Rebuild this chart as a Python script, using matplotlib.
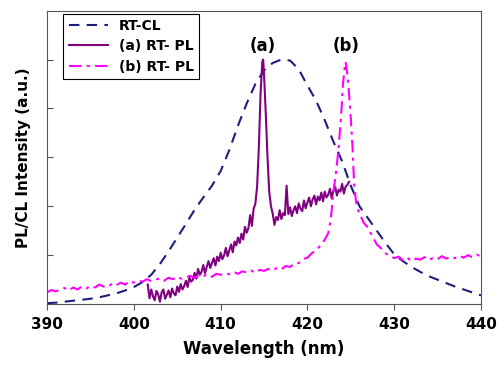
import numpy as np
import matplotlib
matplotlib.use('Agg')
import matplotlib.pyplot as plt

# RT-CL spectrum, 1 nm steps from 390 to 440 nm
cl_wl = np.linspace(390, 440, 51)
cl_int = [0.02, 0.03, 0.05, 0.07, 0.09, 0.11, 0.14, 0.18, 0.22, 0.28,
          0.35, 0.45, 0.60, 0.82, 1.08, 1.36, 1.64, 1.93, 2.18, 2.42,
          2.72, 3.15, 3.65, 4.10, 4.50, 4.78, 4.93, 5.00, 4.98, 4.80,
          4.47, 4.16, 3.76, 3.32, 2.92, 2.42, 2.00, 1.75, 1.50, 1.25,
          1.02, 0.88, 0.76, 0.66, 0.57, 0.50, 0.43, 0.36, 0.30, 0.24,
          0.18]

# (a) RT-PL
pla_wl = np.concatenate([
    np.linspace(401.6, 413.8, 62),
    [414.0, 414.2, 414.4, 414.6, 414.8, 414.9, 415.0, 415.2, 415.4, 415.6, 415.8],
    np.linspace(416.0, 424.8, 45),
])
pla_int = [0.40, 0.12, 0.30, 0.16, 0.08, 0.27, 0.20, 0.05, 0.24, 0.30,
           0.11, 0.19, 0.28, 0.14, 0.32, 0.22, 0.18, 0.36, 0.25, 0.41,
           0.30, 0.37, 0.48, 0.35, 0.55, 0.46, 0.50, 0.64, 0.52, 0.72,
           0.60, 0.66, 0.80, 0.63, 0.76, 0.88, 0.74, 0.84, 0.94, 0.79,
           0.97, 0.88, 1.05, 0.92, 1.00, 1.15, 0.98, 1.10, 1.22, 1.06,
           1.28, 1.20, 1.36, 1.25, 1.44, 1.32, 1.58, 1.46, 1.55, 1.82,
           1.60, 1.95,
           2.05, 2.40, 3.20, 4.30, 4.95, 5.00, 4.70, 3.90, 3.00, 2.30, 2.00,
           1.85, 1.62, 1.78, 1.72, 1.92, 1.74, 1.86, 1.82, 2.42, 1.84,
           1.98, 1.80, 1.92, 2.00, 1.86, 2.06, 1.95, 1.90, 2.12, 1.96,
           2.08, 2.18, 2.00, 2.14, 2.22, 2.04, 2.20, 2.12, 2.28, 2.10,
           2.30, 2.18, 2.24, 2.36, 2.16, 2.32, 2.40, 2.22, 2.34, 2.30,
           2.46, 2.26, 2.40, 2.44, 2.50]

# (b) RT-PL
plb_wl = np.concatenate([
    np.linspace(390, 422, 65),
    [422.4, 422.7, 423.0, 423.3, 423.6, 423.9, 424.1, 424.3, 424.4,
     424.6, 424.8, 425.0, 425.2, 425.4, 425.6, 425.8, 426.0],
    np.linspace(426.5, 440, 28),
])
plb_int = [0.24, 0.29, 0.26, 0.30, 0.33, 0.28, 0.34, 0.30, 0.36, 0.32,
           0.37, 0.34, 0.40, 0.36, 0.35, 0.42, 0.39, 0.44, 0.40, 0.47,
           0.44, 0.48, 0.46, 0.51, 0.47, 0.50, 0.53, 0.48, 0.54, 0.51,
           0.56, 0.52, 0.55, 0.58, 0.54, 0.59, 0.57, 0.61, 0.56, 0.62,
           0.60, 0.63, 0.61, 0.66, 0.62, 0.67, 0.65, 0.69, 0.64, 0.70,
           0.68, 0.72, 0.69, 0.74, 0.71, 0.78, 0.76, 0.83, 0.84, 0.92,
           0.95, 1.04, 1.10, 1.20, 1.32,
           1.45, 1.75, 2.30, 2.70, 3.20, 3.90, 4.50, 4.85, 4.95,
           4.70, 4.30, 3.80, 3.20, 2.40, 2.10, 1.95, 1.85,
           1.66, 1.56, 1.38, 1.22, 1.14, 1.04, 0.99, 0.94, 0.97, 0.90,
           0.95, 0.88, 0.93, 0.91, 0.96, 0.90, 0.95, 0.92, 0.98, 0.93,
           0.97, 0.94, 0.99, 0.95, 1.00, 0.96, 1.01, 0.98]

fig = plt.figure(figsize=(5.01, 3.66), dpi=100)
ax = fig.add_axes([0.094, 0.169, 0.866, 0.802])

ax.plot(cl_wl, cl_int, color='#1c1f80', linestyle=(0, (5, 3.5)), linewidth=1.5,
        label='RT-CL')
ax.plot(pla_wl, pla_int, color='#800080', linestyle='-', linewidth=1.5,
        label='(a) RT- PL')
ax.plot(plb_wl, plb_int, color='#ff00ff', linestyle=(0, (6, 2.5, 1.5, 2.5)),
        linewidth=1.5, label='(b) RT- PL')

ax.text(414.9, 5.27, '(a)', fontsize=12, fontweight='bold', ha='center', va='center')
ax.text(424.4, 5.27, '(b)', fontsize=12, fontweight='bold', ha='center', va='center')

ax.set_xlim(390, 440)
ax.set_ylim(0, 6)
ax.set_xticks([390, 400, 410, 420, 430, 440])
ax.set_yticks([1, 2, 3, 4, 5])
ax.set_yticklabels([])
ax.tick_params(axis='y', direction='in', length=4, color='#555555')
ax.tick_params(axis='x', direction='out', length=4, color='#555555',
               labelsize=11, pad=5)
for lab in ax.get_xticklabels():
    lab.set_fontweight('bold')
for sp in ax.spines.values():
    sp.set_color('#555555')

ax.set_xlabel('Wavelength (nm)', fontsize=12, fontweight='bold', labelpad=6)
ax.set_ylabel('PL/CL Intensity (a.u.)', fontsize=11, fontweight='bold', labelpad=8)

leg = ax.legend(loc='upper left', bbox_to_anchor=(0.037, 0.99), borderaxespad=0,
                fancybox=False, edgecolor='black', framealpha=1,
                prop={'weight': 'bold', 'size': 10}, handlelength=2.8,
                borderpad=0.4, labelspacing=0.45)
leg.get_frame().set_linewidth(0.8)

fig.savefig('out.png', dpi=100)
